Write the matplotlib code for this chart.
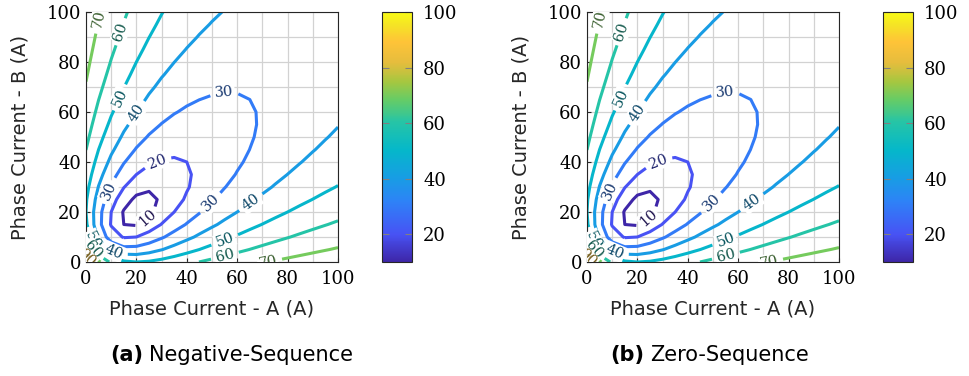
# Sequence-current unbalance maps vs. phase A / phase B current (phase C held fixed)

import numpy as np
import matplotlib
matplotlib.use("Agg")
import matplotlib.pyplot as plt
from matplotlib.colors import LinearSegmentedColormap, Normalize, to_rgb
from matplotlib.ticker import MultipleLocator

# phase currents swept on the axes (A), phase C current (A)
ia = np.arange(0, 101, 5)
ib = np.arange(0, 101, 5)
ic = 20.0

levels = [10, 20, 30, 40, 50, 60, 70, 80, 90]
axis_ticks = [0, 20, 40, 60, 80, 100]
cbar_ticks = [20, 40, 60, 80, 100]
cbar_range = [10, 100]
panel_tags = ["(a)", "(b)"]
panel_names = ["Negative-Sequence", "Zero-Sequence"]

# where the contour labels sit (A, B) in each panel
label_pos = [(5, 97), (14, 92), (13, 66), (21, 59), (55, 67), (8, 29),
             (29, 39), (24, 18), (49, 24), (66, 23), (55, 9), (55, 3),
             (72, 1), (11, 4), (2.5, 8.5), (2.5, 5), (0.5, 2)]

# parula-like colormap
parula = LinearSegmentedColormap.from_list("parula", [
    (0.00, (0.2422, 0.1504, 0.6603)),
    (0.11, (0.2810, 0.3228, 0.9578)),
    (0.24, (0.1800, 0.5100, 0.9700)),
    (0.34, (0.0900, 0.6200, 0.8900)),
    (0.45, (0.0200, 0.7200, 0.7900)),
    (0.56, (0.1500, 0.7700, 0.6500)),
    (0.65, (0.4000, 0.8000, 0.4000)),
    (0.72, (0.6500, 0.7800, 0.2500)),
    (0.80, (0.9000, 0.7400, 0.2400)),
    (0.88, (0.9970, 0.7659, 0.2199)),
    (0.95, (0.9600, 0.8900, 0.1500)),
    (1.00, (0.9769, 0.9839, 0.0805)),
])

A, B = np.meshgrid(ia, ib)
q = A**2 + B**2 + ic**2 - A*B - B*ic - A*ic
unbalance = 100 * np.sqrt(np.clip(q, 0, None)) / (A + B + ic)
fields = [unbalance, unbalance]

W, H = 969, 376
fig = plt.figure(figsize=(W / 100, H / 100), dpi=100)

tick_font = {"family": "DejaVu Serif", "size": 13}

for k in range(2):
    off = 501 * k
    norm = Normalize(cbar_range[0], cbar_range[1])
    ax = fig.add_axes([(86 + off) / W, (H - 262) / H, 252 / W, 250 / H])
    ax.set_axisbelow(True)
    ax.set_xlim(0, 100)
    ax.set_ylim(0, 100)
    ax.set_xticks(axis_ticks)
    ax.set_yticks(axis_ticks)
    ax.xaxis.set_minor_locator(MultipleLocator(10))
    ax.yaxis.set_minor_locator(MultipleLocator(10))
    ax.grid(True, which="both", color="#d2d2d2", linewidth=0.9)
    ax.tick_params(which="both", direction="in", length=3, color="#262626")
    ax.tick_params(which="minor", length=0)
    ax.tick_params(axis="x", pad=6)
    for lab in ax.get_xticklabels() + ax.get_yticklabels():
        lab.set_fontfamily(tick_font["family"])
        lab.set_fontsize(tick_font["size"])
    for sp in ax.spines.values():
        sp.set_color("#262626")
        sp.set_linewidth(0.8)

    cs = ax.contour(A, B, fields[k], levels=levels, cmap=parula, norm=norm,
                    linewidths=2.2)
    label_colors = [tuple(np.array(to_rgb(parula(norm(v)))) * 0.45) for v in levels]
    texts = ax.clabel(cs, manual=label_pos, inline=True, inline_spacing=5,
                      fontsize=10.5, fmt="%d", colors=label_colors)
    for t in texts:
        t.set_fontfamily("DejaVu Serif")
        t.set_bbox(dict(facecolor="white", edgecolor="none", pad=0.8))
        t.set_clip_on(True)

    ax.set_xlabel("Phase Current - A (A)", fontsize=14, family="DejaVu Sans",
                  color="#262626", labelpad=8)
    ax.set_ylabel("Phase Current - B (A)", fontsize=14, family="DejaVu Sans",
                  color="#262626", labelpad=12)

    cax = fig.add_axes([(382 + off) / W, (H - 262) / H, 30 / W, 250 / H])
    sm = plt.cm.ScalarMappable(norm=Normalize(cbar_range[0], cbar_range[1]),
                               cmap=parula)
    cb = fig.colorbar(sm, cax=cax, ticks=cbar_ticks)
    cb.outline.set_edgecolor("#262626")
    cb.outline.set_linewidth(0.8)
    cax.tick_params(direction="in", length=5, color="#808080", left=True,
                    right=True, labelleft=False, labelright=True, pad=8)
    for lab in cax.get_yticklabels():
        lab.set_fontfamily(tick_font["family"])
        lab.set_fontsize(tick_font["size"])

    # caption: bold tag + name
    x0 = (110 + 500 * k) / W
    tag = fig.text(x0, (H - 355) / H, panel_tags[k], fontsize=15,
                   fontweight="bold", family="DejaVu Sans", va="center")
    fig.canvas.draw()
    bb = tag.get_window_extent()
    fig.text((bb.x1 + 6) / W, (H - 355) / H, panel_names[k], fontsize=15,
             family="DejaVu Sans", va="center")

fig.savefig("out.png", dpi=100)
